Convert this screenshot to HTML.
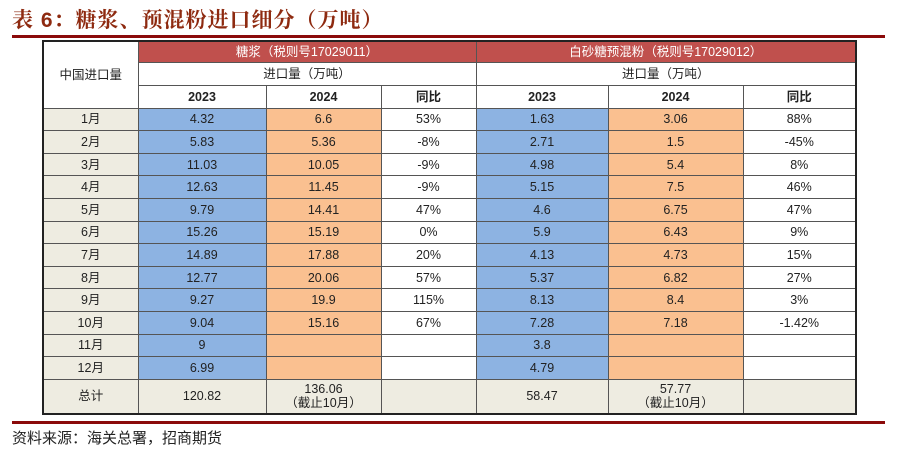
<!DOCTYPE html>
<html><head><meta charset="utf-8"><style>
body{margin:0;width:897px;height:461px;background:#fff;position:relative;overflow:hidden;font-family:"Liberation Sans","Noto Sans CJK SC",sans-serif;}
.title{position:absolute;left:12px;top:4px;font-size:21px;font-weight:bold;color:#8e2a10;letter-spacing:1px;font-family:"Liberation Sans","Noto Serif CJK SC",serif;}
.line{position:absolute;height:3px;background:#8b0a0a;}
table{position:absolute;left:42px;top:40px;border-collapse:collapse;border:2px solid #222;}
td{border:1px solid #555;text-align:center;font-size:12.5px;line-height:14px;color:#222;padding:0;height:21.6px;}
.r{background:#c0504d;color:#fff;height:20px;}
.b{background:#8db3e2;}.o{background:#fac090;}.g{background:#eeece1;}
.h td{font-weight:bold;height:22px;}
.foot{position:absolute;left:12px;top:427px;font-size:15px;color:#222;}
</style></head><body>
<div class="title">表 6：糖浆、预混粉进口细分（万吨）</div>
<div class="line" style="left:12px;top:35px;width:873px"></div>
<table>
<colgroup><col style="width:95px"><col style="width:128px"><col style="width:115px"><col style="width:95px"><col style="width:132px"><col style="width:135px"><col style="width:113px"></colgroup>
<tr><td rowspan="3">中国进口量</td><td colspan="3" class="r">糖浆（税则号17029011）</td><td colspan="3" class="r">白砂糖预混粉（税则号17029012）</td></tr>
<tr><td colspan="3" style="height:19px">进口量（万吨）</td><td colspan="3">进口量（万吨）</td></tr>
<tr class="h"><td>2023</td><td>2024</td><td>同比</td><td>2023</td><td>2024</td><td>同比</td></tr>
<tr><td class="g">1月</td><td class="b">4.32</td><td class="o">6.6</td><td>53%</td><td class="b">1.63</td><td class="o">3.06</td><td>88%</td></tr>
<tr><td class="g">2月</td><td class="b">5.83</td><td class="o">5.36</td><td>-8%</td><td class="b">2.71</td><td class="o">1.5</td><td>-45%</td></tr>
<tr><td class="g">3月</td><td class="b">11.03</td><td class="o">10.05</td><td>-9%</td><td class="b">4.98</td><td class="o">5.4</td><td>8%</td></tr>
<tr><td class="g">4月</td><td class="b">12.63</td><td class="o">11.45</td><td>-9%</td><td class="b">5.15</td><td class="o">7.5</td><td>46%</td></tr>
<tr><td class="g">5月</td><td class="b">9.79</td><td class="o">14.41</td><td>47%</td><td class="b">4.6</td><td class="o">6.75</td><td>47%</td></tr>
<tr><td class="g">6月</td><td class="b">15.26</td><td class="o">15.19</td><td>0%</td><td class="b">5.9</td><td class="o">6.43</td><td>9%</td></tr>
<tr><td class="g">7月</td><td class="b">14.89</td><td class="o">17.88</td><td>20%</td><td class="b">4.13</td><td class="o">4.73</td><td>15%</td></tr>
<tr><td class="g">8月</td><td class="b">12.77</td><td class="o">20.06</td><td>57%</td><td class="b">5.37</td><td class="o">6.82</td><td>27%</td></tr>
<tr><td class="g">9月</td><td class="b">9.27</td><td class="o">19.9</td><td>115%</td><td class="b">8.13</td><td class="o">8.4</td><td>3%</td></tr>
<tr><td class="g">10月</td><td class="b">9.04</td><td class="o">15.16</td><td>67%</td><td class="b">7.28</td><td class="o">7.18</td><td>-1.42%</td></tr>
<tr><td class="g">11月</td><td class="b">9</td><td class="o"></td><td></td><td class="b">3.8</td><td class="o"></td><td></td></tr>
<tr><td class="g">12月</td><td class="b">6.99</td><td class="o"></td><td></td><td class="b">4.79</td><td class="o"></td><td></td></tr>
<tr><td class="g" style="height:33px">总计</td><td class="g">120.82</td><td class="g">136.06<br>（截止10月）</td><td class="g"></td><td class="g">58.47</td><td class="g">57.77<br>（截止10月）</td><td class="g"></td></tr>
</table>
<div class="line" style="left:12px;top:421px;width:873px"></div>
<div class="foot">资料来源：海关总署，招商期货</div>
</body></html>
